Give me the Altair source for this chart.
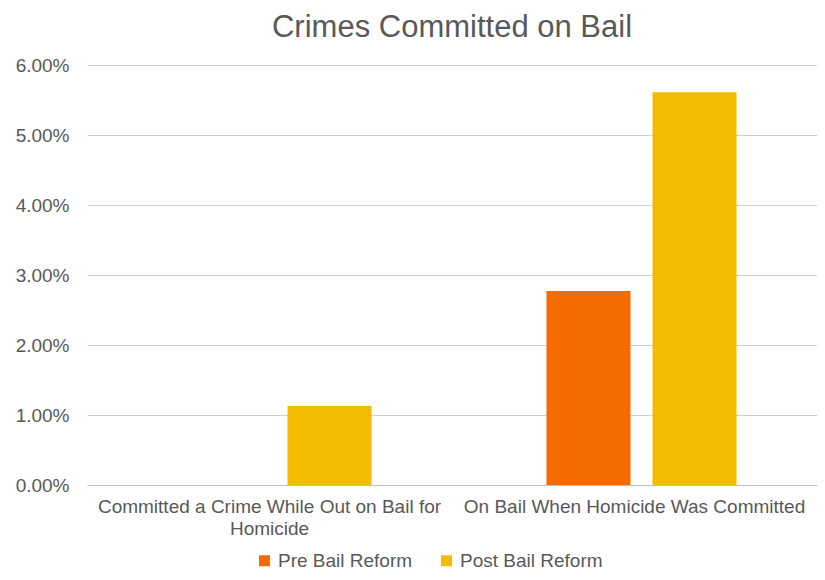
import altair as alt
import pandas as pd

categories = ["Committed a Crime While Out on Bail for|Homicide", "On Bail When Homicide Was Committed"]
series = ["Pre Bail Reform", "Post Bail Reform"]
pre_values = [0.0, 0.0277]
post_values = [0.0113, 0.0561]
y_ticks = [0, 0.01, 0.02, 0.03, 0.04, 0.05, 0.06]
colors = ["#F46B00", "#F4BC00"]

rows = []
for c, v in zip(categories, pre_values):
    rows.append({"category": c, "series": series[0], "value": v})
for c, v in zip(categories, post_values):
    rows.append({"category": c, "series": series[1], "value": v})
df = pd.DataFrame(rows)

FONT = "Liberation Sans"
GREY = "#595959"

chart = alt.Chart(df).mark_bar().encode(
    x=alt.X("category:N", sort=categories,
            scale=alt.Scale(paddingInner=0, paddingOuter=0),
            axis=alt.Axis(title=None, labelAngle=0, ticks=False, domainColor="#bfbfbf",
                          labelExpr="split(datum.label, '|')", labelLimit=0,
                          labelFontSize=19, labelColor=GREY, labelFont=FONT,
                          labelPadding=12, labelLineHeight=22, labelBaseline="top")),
    xOffset=alt.XOffset("series:N", sort=series,
                        scale=alt.Scale(paddingInner=0.2075, paddingOuter=0.825, align=0.54)),
    y=alt.Y("value:Q", scale=alt.Scale(domain=[0, 0.06], nice=False),
            axis=alt.Axis(title=None, values=y_ticks, format=".2%", domain=False, ticks=False,
                          gridColor="#d0d0d0", gridWidth=1,
                          labelFontSize=19, labelColor=GREY, labelFont=FONT, labelPadding=18)),
    color=alt.Color("series:N", sort=series,
                    scale=alt.Scale(domain=series, range=colors),
                    legend=alt.Legend(title=None, orient="none", direction="horizontal",
                                      legendX=168, legendY=486,
                                      symbolType="square", symbolSize=121, symbolStrokeWidth=0,
                                      labelFontSize=19, labelColor=GREY, labelFont=FONT,
                                      labelLimit=0, columnPadding=24, padding=0, labelOffset=4)),
).properties(
    width=730,
    height=420,
    title=alt.TitleParams("Crimes Committed on Bail", fontSize=31, color=GREY, font=FONT,
                          fontWeight="normal", anchor="middle", offset=12),
    autosize=alt.AutoSizeParams(type="none"),
    padding={"left": 79, "top": 57, "right": 0, "bottom": 87},
).configure_view(stroke=None)

chart.save("out.html", embed_options={"renderer": "svg", "actions": False})
